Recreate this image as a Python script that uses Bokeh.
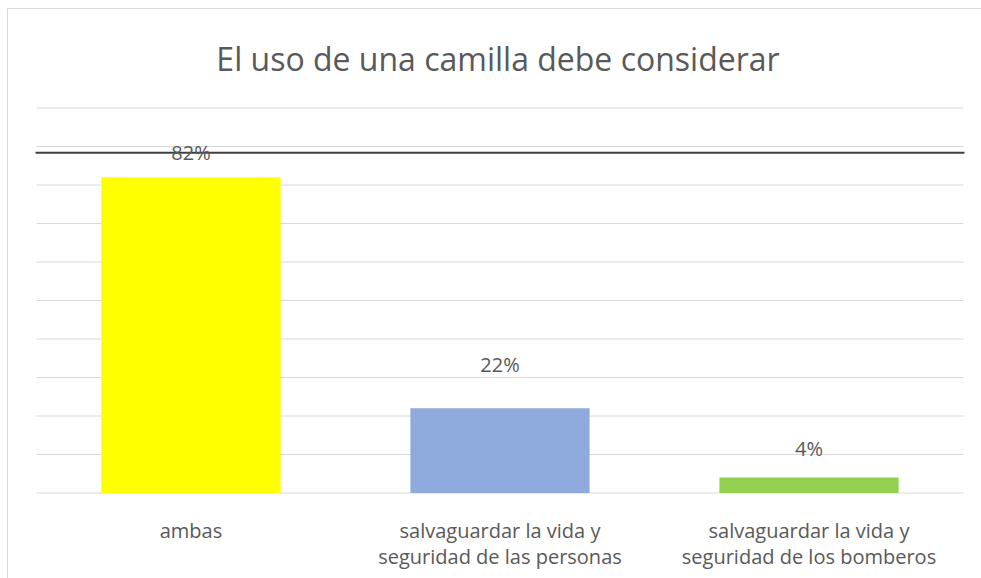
from bokeh.plotting import figure
from bokeh.models import ColumnDataSource, LabelSet, Label, Range1d
from bokeh.core.properties import value
from bokeh.embed import file_html
from bokeh.resources import INLINE

# ---- data ----
categories = [
    "ambas",
    "salvaguardar la vida y\nseguridad de las personas",
    "salvaguardar la vida y\nseguridad de los bomberos",
]
values = [82, 22, 4]
value_labels = ["82%", "22%", "4%"]
bar_colors = ["#FFFF00", "#8FAADC", "#92D050"]
ref_line_value = 88.4
grid_ticks = list(range(0, 101, 10))
title_text = "El uso de una camilla debe considerar"

# ---- layout (pixels) ----
W, H = 981, 578
PLOT_L, PLOT_R = 36, 963          # plot area left / right
BASE_PX = 492.5                   # baseline (0 %) from top
PX_PER_PCT = 3.85                 # vertical scale
label_offsets = [25, 44, 29]      # value label lift above bar top (px)

TEXT = "#595959"
FONT = "Open Sans"

n = len(categories)
px_per_cat = (PLOT_R - PLOT_L) / n


def px_x(px):
    return (px - PLOT_L) / px_per_cat


def px_y(py):
    return (BASE_PX - py) / PX_PER_PCT


xc = [i + 0.5 for i in range(n)]
line1 = [c.split("\n")[0] for c in categories]
line2 = [c.split("\n")[1] if "\n" in c else "" for c in categories]

src = ColumnDataSource(dict(x=xc, val=values, lab=value_labels, col=bar_colors,
                            off=label_offsets, l1=line1, l2=line2,
                            base=[0] * n))

p = figure(x_range=Range1d(px_x(0), px_x(W)), y_range=Range1d(px_y(H), px_y(0)),
           width=W, height=H, output_backend="svg", toolbar_location=None,
           min_border=0)
p.title.visible = False
p.outline_line_color = None
p.background_fill_color = "white"
p.border_fill_color = "white"
p.xaxis.visible = False
p.yaxis.visible = False
p.xgrid.visible = False
p.ygrid.visible = False

# chart container border (top and left edges)
p.line(x=[px_x(7), px_x(7), px_x(W)], y=[px_y(H), px_y(8), px_y(8)],
       line_color="#d9d9d9", line_width=1)

# horizontal gridlines across the plot area
p.segment(x0=[0] * len(grid_ticks), x1=[n] * len(grid_ticks),
          y0=grid_ticks, y1=grid_ticks, line_color="#d9d9d9", line_width=1)

# dark horizontal line
p.segment(x0=[px_x(35)], x1=[px_x(964)], y0=[ref_line_value], y1=[ref_line_value],
          line_color="#404040", line_width=2)

# bars
p.vbar(x="x", top="val", bottom=0, width=0.58, fill_color="col", line_color=None,
       source=src)

# value labels
p.add_layout(LabelSet(x="x", y="val", text="lab", y_offset="off", source=src,
                      text_align="center", text_baseline="middle",
                      text_font=value(FONT), text_font_size=value("20px"),
                      text_color=value(TEXT)))

# category labels (two lines)
p.add_layout(LabelSet(x="x", y="base", text="l1", y_offset=-37.5, source=src,
                      text_align="center", text_baseline="middle",
                      text_font=value(FONT), text_font_size=value("20px"),
                      text_color=value(TEXT)))
p.add_layout(LabelSet(x="x", y="base", text="l2", y_offset=-63, source=src,
                      text_align="center", text_baseline="middle",
                      text_font=value(FONT), text_font_size=value("20px"),
                      text_color=value(TEXT)))

# title
p.add_layout(Label(x=px_x(497.5), y=px_y(58), text=title_text,
                   text_align="center", text_baseline="middle",
                   text_font=FONT, text_font_size="32px", text_color=TEXT))

open("out.html", "w").write(file_html(p, INLINE))
